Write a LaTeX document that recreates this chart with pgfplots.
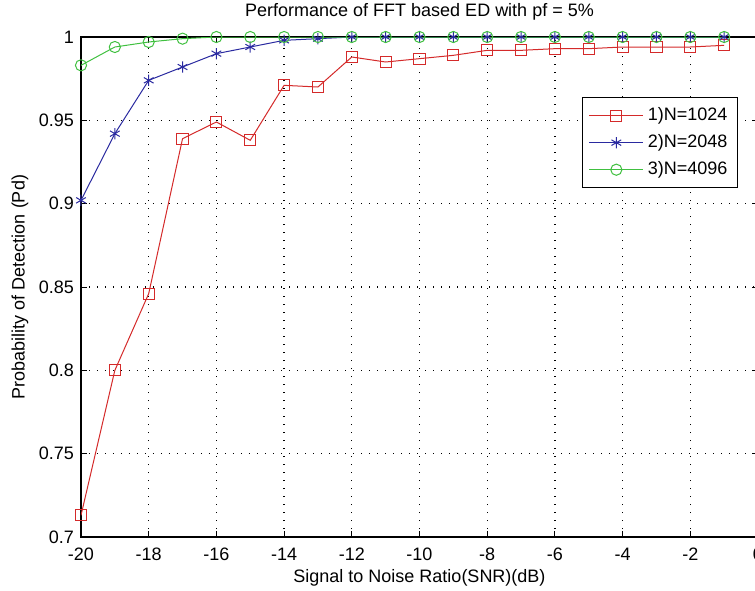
\documentclass[border=0pt]{standalone}
\usepackage{fontspec}
\setmainfont{Liberation Sans}
\usepackage{pgfplots}
\pgfplotsset{compat=1.18}
\definecolor{mred}{HTML}{D42A2A}
\definecolor{mblue}{HTML}{2A2AA0}
\definecolor{mgreen}{HTML}{40C040}

\begin{document}
\begin{tikzpicture}
\begin{axis}[
  name=ax,
  scale only axis, width=338.5pt, height=250pt,
  font=\fontsize{9}{10.5}\selectfont,
  xmin=-20, xmax=0, ymin=0.7, ymax=1,
  xtick={-20,-18,-16,-14,-12,-10,-8,-6,-4,-2,0},
  ytick={0.7,0.75,0.8,0.85,0.9,0.95,1},
  /pgf/number format/assume math mode=true,
  yticklabel style={/pgf/number format/fixed, /pgf/number format/precision=2},
  xticklabel style={yshift=-2pt},
  tick align=inside, major tick length=3pt,
  tick style={black, line width=0.5pt},
  axis line style={black, line width=0.6pt},
  grid=major,
  major grid style={black, line width=0.6pt, dash pattern=on 0.6pt off 3.4pt},
  title={Performance of FFT based ED with pf = 5\%},
  title style={at={(axis description cs:0.5,1)}, anchor=center, yshift=6.5pt},
  xlabel={Signal to Noise Ratio(SNR)(dB)},
  xlabel style={at={(axis description cs:0.5,0)}, anchor=center, yshift=-20.5pt},
  ylabel={Probability of Detection (Pd)},
  ylabel style={at={(axis description cs:0,0.5)}, anchor=center, yshift=30.5pt},
  legend cell align=left,
  legend style={at={(1,1)}, anchor=north east, xshift=-10pt, yshift=-30pt,
    draw=black, line width=0.6pt, row sep=1.5pt, inner sep=3pt},
  legend image code/.code={\draw[mark repeat=2, mark phase=2] plot coordinates {(0pt,0pt) (13.5pt,0pt) (27pt,0pt)};},
]
\addplot[mred, line width=0.5pt, mark=square, mark size=2.8pt] coordinates {
(-20,0.713) (-19,0.800) (-18,0.846) (-17,0.939) (-16,0.949) (-15,0.938)
(-14,0.971) (-13,0.970) (-12,0.988) (-11,0.985) (-10,0.987) (-9,0.989)
(-8,0.992) (-7,0.992) (-6,0.993) (-5,0.993) (-4,0.994) (-3,0.994)
(-2,0.994) (-1,0.995)};
\addplot[mblue, line width=0.5pt, mark=asterisk, mark size=2.8pt] coordinates {
(-20,0.902) (-19,0.942) (-18,0.974) (-17,0.982) (-16,0.990) (-15,0.994)
(-14,0.998) (-13,0.999) (-12,1) (-11,1) (-10,1) (-9,1)
(-8,1) (-7,1) (-6,1) (-5,1) (-4,1) (-3,1)
(-2,1) (-1,1)};
\addplot[mgreen, line width=0.5pt, mark=o, mark size=2.8pt] coordinates {
(-20,0.983) (-19,0.994) (-18,0.997) (-17,0.999) (-16,1) (-15,1)
(-14,1) (-13,1) (-12,1) (-11,1) (-10,1) (-9,1)
(-8,1) (-7,1) (-6,1) (-5,1) (-4,1) (-3,1)
(-2,1) (-1,1)};
\legend{1)N=1024, 2)N=2048, 3)N=4096}
\end{axis}
\pgfresetboundingbox
\path ([xshift=-40.5pt,yshift=-26.5pt]ax.south west) rectangle ([xshift=-1.5pt,yshift=18.5pt]ax.north east);
\end{tikzpicture}
\end{document}
